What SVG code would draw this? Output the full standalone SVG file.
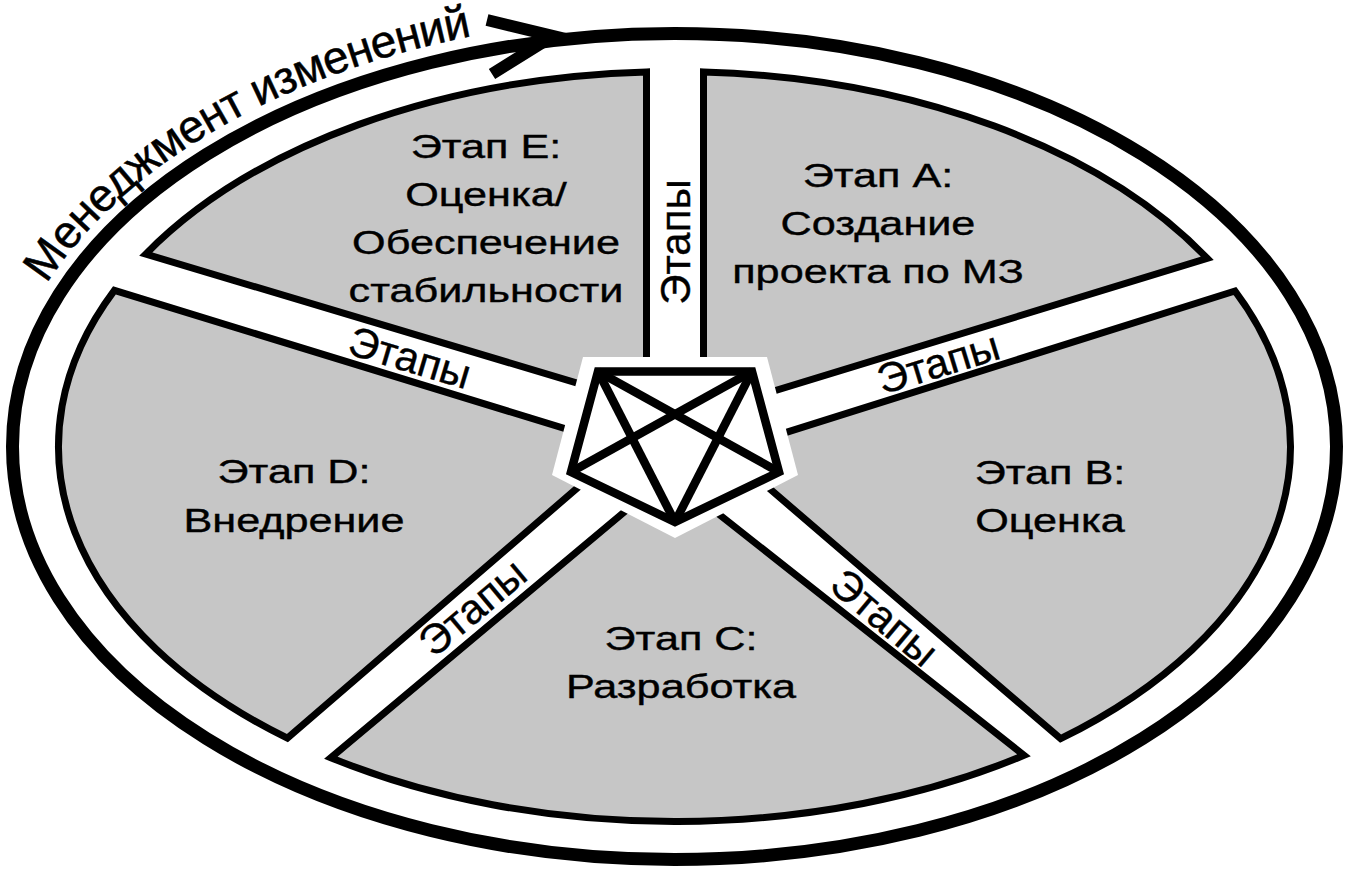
<svg xmlns="http://www.w3.org/2000/svg" width="1349" height="875" viewBox="0 0 1349 875">
<style>
.sector{fill:#c6c6c6;stroke:#000;stroke-width:7;stroke-linejoin:miter}
.lbl{font-family:"Liberation Sans",Arial,sans-serif;font-size:34px;fill:#000;stroke:#000;stroke-width:0.4;text-anchor:middle}
.band{font-family:"Liberation Sans",Arial,sans-serif;font-size:42px;fill:#000;stroke:#000;stroke-width:0.4;text-anchor:middle}
.ring{fill:none;stroke:#000;stroke-width:13}
</style>
<defs>
<path id="ringPath" d="M 19.6,335.2 A 678 430 0 0 1 792,23"/>
</defs>
<rect width="1349" height="875" fill="#fff"/>
<g id="ring">
<ellipse class="ring" cx="674.5" cy="446.5" rx="662" ry="413"/>
<polyline points="487,20 553,36 492,74" fill="none" stroke="#000" stroke-width="12" stroke-linejoin="miter"/>
<text font-family="Liberation Sans,Arial,sans-serif" font-size="46" fill="#000" stroke="#000" stroke-width="0.5"><textPath href="#ringPath" startOffset="58" textLength="505">Менеджмент изменений</textPath></text>
</g>
<g id="sectorA"><path class="sector" d="M703.5,412.5 L703.5,71.9 A616 375 0 0 1 1207.3,258.4 Z"/>
<text class="lbl" transform="translate(878,0) scale(1.27,1)"><tspan x="0" y="187">Этап A:</tspan><tspan x="0" y="235">Создание</tspan><tspan x="0" y="283">проекта по МЗ</tspan></text></g>
<g id="sectorB"><path class="sector" d="M726,451.3 L1235,291 A616 375 0 0 1 1060.6,738.7 Z"/>
<text class="lbl" transform="translate(1050,0) scale(1.27,1)"><tspan x="0" y="484">Этап B:</tspan><tspan x="0" y="532">Оценка</tspan></text></g>
<g id="sectorC"><path class="sector" d="M668.8,474.7 L1024,755.3 A616 375 0 0 1 330.8,757.7 Z"/>
<text class="lbl" transform="translate(681,0) scale(1.27,1)"><tspan x="0" y="650">Этап C:</tspan><tspan x="0" y="698">Разработка</tspan></text></g>
<g id="sectorD"><path class="sector" d="M624.8,447 L287.4,738.2 A616 375 0 0 1 114.4,290.4 Z"/>
<text class="lbl" transform="translate(294,0) scale(1.27,1)"><tspan x="0" y="483">Этап D:</tspan><tspan x="0" y="532">Внедрение</tspan></text></g>
<g id="sectorE"><path class="sector" d="M646.5,403.8 L145.75,254.1 A616 375 0 0 1 646.5,71.9 Z"/>
<text class="lbl" transform="translate(486,0) scale(1.27,1)"><tspan x="0" y="158">Этап E:</tspan><tspan x="0" y="206">Оценка/</tspan><tspan x="0" y="254">Обеспечение</tspan><tspan x="0" y="302">стабильности</tspan></text></g>
<g id="connectors">
<text class="band" transform="translate(675,242) rotate(-90)" dy="0.36em">Этапы</text>
<text class="band" transform="translate(410,357) rotate(16.7)" dy="0.36em">Этапы</text>
<text class="band" transform="translate(938,362) rotate(-17)" dy="0.36em">Этапы</text>
<text class="band" transform="translate(885,617) rotate(40)" dy="0.36em">Этапы</text>
<text class="band" transform="translate(472,607) rotate(-40)" dy="0.36em">Этапы</text>
</g>
<g id="hub">
<polygon points="583,357 767,357 798,475 675,538 552,475" fill="#fff"/>
<g fill="none" stroke="#000" stroke-width="8.5" stroke-linejoin="miter">
<polygon points="598,371.5 752,371.5 779,472 675,522 571,472"/>
<line x1="598" y1="371.5" x2="779" y2="472"/>
<line x1="598" y1="371.5" x2="675" y2="522"/>
<line x1="752" y1="371.5" x2="571" y2="472"/>
<line x1="752" y1="371.5" x2="675" y2="522"/>
</g>
</g>
</svg>
